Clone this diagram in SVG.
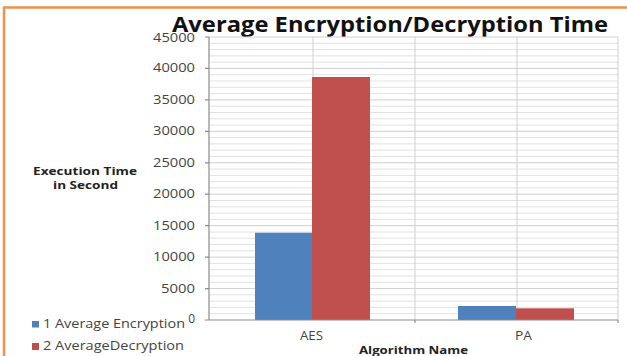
<svg xmlns="http://www.w3.org/2000/svg" width="627" height="356" viewBox="0 0 627 356">
  <style>
    .frame { stroke: #F0914A; stroke-width: 2.5; fill: none; }
    .minor { stroke: #E2E2E2; stroke-width: 1; fill: none; }
    .major { stroke: #CFCFCF; stroke-width: 1; fill: none; }
    .axis { stroke: #8C8C8C; stroke-width: 1.2; fill: none; }
    .enc { fill: #4F81BD; }
    .dec { fill: #C0504D; }
    .tick { font-family: "Open Sans", "Liberation Sans", sans-serif; font-size: 12px; fill: #444; text-anchor: end; }
    .cat { font-family: "Open Sans", "Liberation Sans", sans-serif; font-size: 12px; fill: #444; }
    .legend { font-family: "Open Sans", "Liberation Sans", sans-serif; font-size: 13px; fill: #444; }
    .axtitle { font-family: "Open Sans", "Liberation Sans", sans-serif; font-size: 10.5px; font-weight: bold; fill: #222; }
    .title { font-family: "Open Sans", "Liberation Sans", sans-serif; font-size: 21px; font-weight: bold; fill: #111; }
  </style>

  <rect x="0" y="0" width="627" height="356" fill="#FFFFFF"/>
  <!-- orange frame: top and left edges -->
  <path class="frame" d="M4 356 V7.5 H627"/>

  <!-- title -->
  <text class="title" x="172" y="32" textLength="436" lengthAdjust="spacingAndGlyphs">Average Encryption/Decryption Time</text>

  <g id="grid">
    <!-- minor gridlines every 1000 -->
    <path class="minor" d="M209 313.7H618M209 307.4H618M209 301.1H618M209 294.8H618M209 282.3H618M209 276H618M209 269.7H618M209 263.4H618M209 250.8H618M209 244.5H618M209 238.2H618M209 232H618M209 219.4H618M209 213.1H618M209 206.8H618M209 200.5H618M209 187.9H618M209 181.6H618M209 175.4H618M209 169.1H618M209 156.5H618M209 150.2H618M209 143.9H618M209 137.6H618M209 125H618M209 118.8H618M209 112.5H618M209 106.2H618M209 93.6H618M209 87.3H618M209 81H618M209 74.7H618M209 62.2H618M209 55.9H618M209 49.6H618M209 43.3H618"/>
    <!-- major gridlines every 5000 -->
    <path class="major" d="M209 288.6H618M209 257.1H618M209 225.7H618M209 194.2H618M209 162.8H618M209 131.3H618M209 99.9H618M209 68.4H618M209 37H618"/>
    <!-- vertical gridlines -->
    <path class="major" d="M313 37V320M415 37V320M517 37V320M618 37V320"/>
  </g>

  <g id="bars">
    <rect id="aes-enc" class="enc" x="255" y="232.7" width="57" height="87.3"/>
    <rect id="aes-dec" class="dec" x="312" y="77" width="58" height="243"/>
    <rect id="pa-enc" class="enc" x="458" y="306" width="58" height="14"/>
    <rect id="pa-dec" class="dec" x="516" y="308.3" width="58" height="11.7"/>
  </g>

  <g id="axes">
    <path class="axis" d="M209 37V320M205 320H618M415 320V323M618 320V323M205 288.6H209M205 257.1H209M205 225.7H209M205 194.2H209M205 162.8H209M205 131.3H209M205 99.9H209M205 68.4H209M205 37H209"/>
  </g>

  <g id="y-labels">
    <text class="tick" x="195" y="42" textLength="42" lengthAdjust="spacingAndGlyphs">45000</text>
    <text class="tick" x="195" y="72.4" textLength="42" lengthAdjust="spacingAndGlyphs">40000</text>
    <text class="tick" x="195" y="103.9" textLength="42" lengthAdjust="spacingAndGlyphs">35000</text>
    <text class="tick" x="195" y="135.3" textLength="42" lengthAdjust="spacingAndGlyphs">30000</text>
    <text class="tick" x="195" y="166.8" textLength="42" lengthAdjust="spacingAndGlyphs">25000</text>
    <text class="tick" x="195" y="198.2" textLength="42" lengthAdjust="spacingAndGlyphs">20000</text>
    <text class="tick" x="195" y="229.7" textLength="42" lengthAdjust="spacingAndGlyphs">15000</text>
    <text class="tick" x="195" y="261.1" textLength="42" lengthAdjust="spacingAndGlyphs">10000</text>
    <text class="tick" x="195" y="292.6" textLength="34" lengthAdjust="spacingAndGlyphs">5000</text>
    <text class="tick" x="195" y="322.5">0</text>
  </g>

  <g id="x-labels">
    <text class="cat" x="300" y="340" textLength="23" lengthAdjust="spacingAndGlyphs">AES</text>
    <text class="cat" x="515" y="340" textLength="17" lengthAdjust="spacingAndGlyphs">PA</text>
  </g>

  <g id="axis-titles">
    <text class="axtitle" x="33" y="175" textLength="104" lengthAdjust="spacingAndGlyphs">Execution Time</text>
    <text class="axtitle" x="53" y="188.5" textLength="65" lengthAdjust="spacingAndGlyphs">in Second</text>
    <text class="axtitle" x="359" y="354" font-size="12" textLength="109" lengthAdjust="spacingAndGlyphs">Algorithm Name</text>
  </g>

  <g id="legend">
    <rect class="enc" x="32" y="321" width="7" height="6.5"/>
    <text class="legend" x="43" y="328" textLength="142" lengthAdjust="spacingAndGlyphs">1 Average Encryption</text>
    <rect class="dec" x="32" y="343" width="7" height="7"/>
    <text class="legend" x="43" y="350" textLength="141" lengthAdjust="spacingAndGlyphs">2 AverageDecryption</text>
  </g>
</svg>
